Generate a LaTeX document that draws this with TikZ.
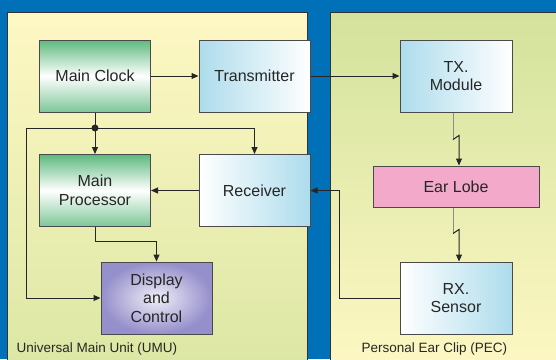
\documentclass[tikz,border=0pt]{standalone}
\usepackage{fontspec}
\setmainfont{Liberation Sans}
\usepackage{tikz}
\usetikzlibrary{arrows.meta,positioning}

\definecolor{bgblue}{HTML}{0070B8}
\definecolor{paleyel}{HTML}{FEF8C4}
\definecolor{palegrn}{HTML}{D3E29C}
\definecolor{boxgrn}{HTML}{5DB97E}
\definecolor{boxblu}{HTML}{ADDCEC}
\definecolor{boxpink}{HTML}{F3A9C9}
\definecolor{boxpurp}{HTML}{958FCB}
\definecolor{edge}{HTML}{4A4A4A}

\tikzset{
  blk/.style={draw=edge, line width=1pt, minimum width=111pt, minimum height=72pt,
    align=center, font=\fontsize{16}{18.5}\selectfont, text=black!85, inner sep=2pt},
  grnbox/.style={blk, top color=boxgrn, bottom color=boxgrn!80, middle color=white},
  bluleft/.style={blk, left color=boxblu, right color=white},
  bluright/.style={blk, left color=white, right color=boxblu},
  conn/.style={line width=1pt, black!85, -{Triangle[length=7pt,width=6pt]}},
  panel/.style={draw=black!80, line width=1pt},
  unitlabel/.style={font=\fontsize{13.5}{15}\selectfont, text=black!85, anchor=west}
}

\begin{document}
\begin{tikzpicture}[x=1pt,y=-1pt]
  \useasboundingbox (0,0) rectangle (556,359);
  \clip (0,0) rectangle (556,359);
  % background and the two units
  \fill[bgblue] (0,0) rectangle (556,359);
  \draw[panel, top color=paleyel, bottom color=palegrn!80!paleyel] (7,12) rectangle (307,372);
  \draw[panel, top color=palegrn, bottom color=paleyel] (330,12) rectangle (566,372);

  % blocks
  \node[grnbox] (clock) at (95,76) {Main Clock};
  \node[bluleft] (tx) at (254.5,76) {Transmitter};
  \node[bluleft, minimum width=112pt] (txmod) at (456,76) {TX.\\Module};
  \node[grnbox] (proc) at (95,190.5) {Main\\Processor};
  \node[bluright] (recv) at (254.5,190.5) {Receiver};
  \node[blk, inner color=white!85!boxpurp, outer color=boxpurp] (disp) at (156.5,298) {Display\\and\\Control};
  \node[blk, fill=boxpink, minimum width=166pt, minimum height=41pt] (ear) at (456,186.5) {Ear Lobe};
  \node[bluright, minimum width=112pt] (rxs) at (456,298) {RX.\\Sensor};

  \node[unitlabel] (umu) at (13,349) {Universal Main Unit (UMU)};
  \node[unitlabel] (pec) at (358,349) {Personal Ear Clip (PEC)};

  % clock distribution
  \coordinate (dot) at (clock.south |- 0,128);
  \coordinate (lft) at (26,128);
  \draw[conn] (clock) -- (tx);
  \draw[conn] (tx) -- (txmod);
  \draw[conn] (clock.south) -- (proc.north);
  \draw[conn] (dot) -| (recv.north);
  \draw[conn] (dot) -- (lft) |- (disp.west);
  \fill[black!85] (dot) circle (3.5pt);
  \draw[conn] (proc.south) -- ++(0,14) coordinate (pb) -| (disp.north);
  \draw[conn] (recv) -- (proc);

  % wireless links through the ear lobe
  \draw[black!45, line width=1pt] ([xshift=-3pt]txmod.south) -- ++(0,27) coordinate (z1);
  \draw[conn] (z1) -- ++(6,-4) -- ([xshift=3pt]ear.north);
  \draw[black!45, line width=1pt] ([xshift=-3pt]ear.south) -- ++(0,26) coordinate (z2);
  \draw[conn] (z2) -- ++(6,-4) -- ([xshift=3pt]rxs.north);

  % sensor back to receiver
  \coordinate (rb) at (339,298);
  \draw[conn] (rxs.west) -- (rb) |- (recv.east);
\end{tikzpicture}
\end{document}
